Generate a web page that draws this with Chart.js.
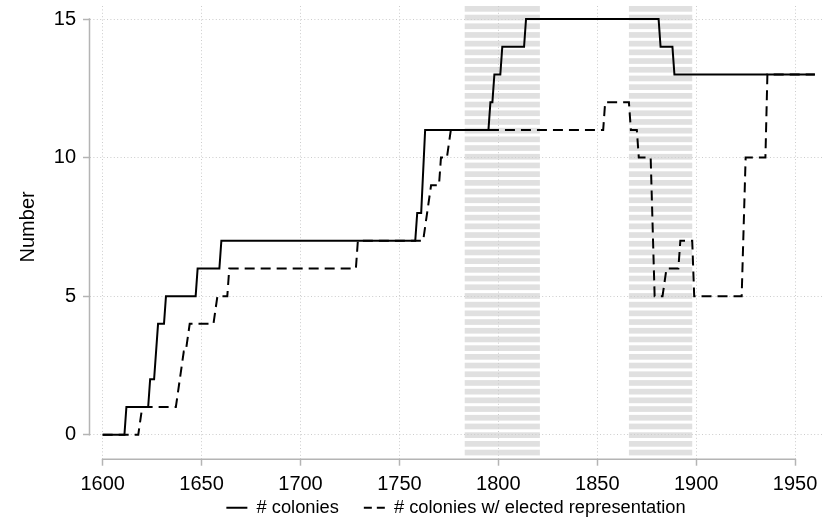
<!DOCTYPE html>
<html>
<head>
<meta charset="utf-8">
<script src="https://cdn.jsdelivr.net/npm/chart.js@4.4.1/dist/chart.umd.min.js"></script>
<style>
html,body{margin:0;padding:0;background:#fff;}
canvas{display:block;}
</style>
</head>
<body>
<canvas id="c" width="823" height="527"></canvas>
<script>
// ---- data ----
const colonyYears = [1600,1611,1612,1623,1624,1626,1628,1631,1632,1647,1648,1659,1660,1758,1759,1761,1763,1795,1796,1797,1798,1801,1802,1813,1814,1881,1882,1888,1889,1960];
const colonyCount = [0,0,1,1,2,2,4,4,5,5,6,6,7,7,8,8,11,11,12,12,13,13,14,14,15,15,14,14,13,13];
const electedYears = [1600,1618,1620,1637,1639,1641,1642,1644,1656,1658,1663,1664,1728,1729,1762,1766,1770,1771,1774,1776,1853,1854,1866,1867,1870,1871,1877,1879,1883,1885,1891,1892,1898,1899,1923,1925,1935,1936,1960];
const electedCount = [0,0,1,1,2,3,3,4,4,5,5,6,6,7,7,9,9,10,10,11,11,12,12,11,11,10,10,5,5,6,6,7,7,5,5,10,10,13,13];
const xTickValues = [1600,1650,1700,1750,1800,1850,1900,1950];
const yTickValues = [0,5,10,15];
const shadeStart = [1783,1866];
const shadeEnd = [1821,1898];
const seriesLabels = ['# colonies', '# colonies w/ elected representation'];
const yTitle = 'Number';

const FONT = '"Liberation Sans", Arial, Helvetica, sans-serif';
const FS = 20;
const LEG_FS = 18.3;
const AXIS_COLOR = '#b4b4b4';
const GRID_COLOR = '#cccccc';

const shadePlugin = {
  id: 'shade',
  beforeDraw(chart) {
    const {ctx, chartArea} = chart;
    const xs = chart.scales.x;
    ctx.save();
    ctx.fillStyle = '#e0e0e0';
    for (let i = 0; i < shadeStart.length; i++) {
      const x0 = xs.getPixelForValue(shadeStart[i]);
      const x1 = xs.getPixelForValue(shadeEnd[i]);
      for (let y = chartArea.top; y < chartArea.bottom - 1; y += 8.7) {
        const h = Math.min(5.7, chartArea.bottom - y);
        ctx.fillRect(x0, y, x1 - x0, h);
      }
    }
    ctx.restore();
  }
};

const axisPlugin = {
  id: 'axislines',
  afterDraw(chart) {
    const {ctx, chartArea} = chart;
    const xs = chart.scales.x, ys = chart.scales.y;
    ctx.save();
    ctx.strokeStyle = AXIS_COLOR;
    ctx.lineWidth = 1.5;
    ctx.beginPath();
    const ax = chartArea.left - 0.5;
    ctx.moveTo(ax, ys.getPixelForValue(yTickValues[0]) + 0.75);
    ctx.lineTo(ax, ys.getPixelForValue(yTickValues[yTickValues.length - 1]) - 0.75);
    const ay = chartArea.bottom + 0.5;
    ctx.moveTo(xs.getPixelForValue(xTickValues[0]) - 0.75, ay);
    ctx.lineTo(xs.getPixelForValue(xTickValues[xTickValues.length - 1]) + 0.75, ay);
    ctx.stroke();
    // y axis title
    ctx.fillStyle = '#000';
    ctx.font = FS + 'px ' + FONT;
    ctx.textAlign = 'center';
    ctx.textBaseline = 'middle';
    const cy = (ys.getPixelForValue(yTickValues[0]) + ys.getPixelForValue(yTickValues[yTickValues.length - 1])) / 2;
    ctx.translate(28, cy);
    ctx.rotate(-Math.PI / 2);
    ctx.fillText(yTitle, 0, 0);
    ctx.restore();
  }
};

const chart = new Chart(document.getElementById('c').getContext('2d'), {
  type: 'line',
  data: {
    datasets: [
      {
        label: seriesLabels[0],
        data: colonyYears.map((x, i) => ({x: x, y: colonyCount[i]})),
        borderColor: '#000', backgroundColor: '#000', borderWidth: 2,
        pointRadius: 0, fill: false, tension: 0
      },
      {
        label: seriesLabels[1],
        data: electedYears.map((x, i) => ({x: x, y: electedCount[i]})),
        borderColor: '#000', backgroundColor: '#000', borderWidth: 2,
        borderDash: [10, 6],
        pointRadius: 0, fill: false, tension: 0
      }
    ]
  },
  options: {
    responsive: false,
    animation: false,
    devicePixelRatio: 1,
    events: [],
    layout: {padding: {top: 6, right: 1, left: 0, bottom: 0}},
    plugins: {
      tooltip: {enabled: false},
      legend: {
        position: 'bottom',
        fullSize: false,
        labels: {
          usePointStyle: true,
          pointStyle: 'line',
          pointStyleWidth: 21,
          padding: 25,
          color: '#000',
          font: {family: FONT, size: LEG_FS},
          generateLabels: chart => {
            const items = Chart.defaults.plugins.legend.labels.generateLabels(chart);
            items.forEach(it => {
              const ds = chart.data.datasets[it.datasetIndex];
              it.lineDash = ds.borderDash ? [8, 5] : [];
              it.lineWidth = ds.borderWidth;
              it.strokeStyle = ds.borderColor;
              it.pointStyle = 'line';
            });
            return items;
          }
        }
      }
    },
    scales: {
      x: {
        type: 'linear',
        min: 1593.6,
        max: 1963.6,
        afterBuildTicks: s => { s.ticks = xTickValues.map(v => ({value: v})); },
        afterFit: s => {
          s.height = 15; s.paddingLeft = 0; s.paddingRight = 0;
          s._computeLabelArea = () => undefined;
        },
        grid: {color: GRID_COLOR, lineWidth: 1, tickLength: 7, tickColor: AXIS_COLOR, tickWidth: 1.5},
        border: {display: false, dash: [1, 2.4]},
        ticks: {color: '#000', font: {family: FONT, size: FS}, padding: 7, maxRotation: 0, autoSkip: false,
                callback: v => String(v)}
      },
      y: {
        min: -0.865,
        max: 15.47,
        afterBuildTicks: s => { s.ticks = yTickValues.map(v => ({value: v})); },
        afterFit: s => { s.width = 90; s.paddingTop = 0; s.paddingBottom = 0; },
        grid: {color: GRID_COLOR, lineWidth: 1, tickLength: 7, tickColor: AXIS_COLOR, tickWidth: 1.5},
        border: {display: false, dash: [1, 2.4]},
        ticks: {color: '#000', font: {family: FONT, size: FS}, padding: 7, autoSkip: false,
                callback: v => String(v)}
      }
    }
  },
  plugins: [shadePlugin, axisPlugin]
});
</script>
</body>
</html>
